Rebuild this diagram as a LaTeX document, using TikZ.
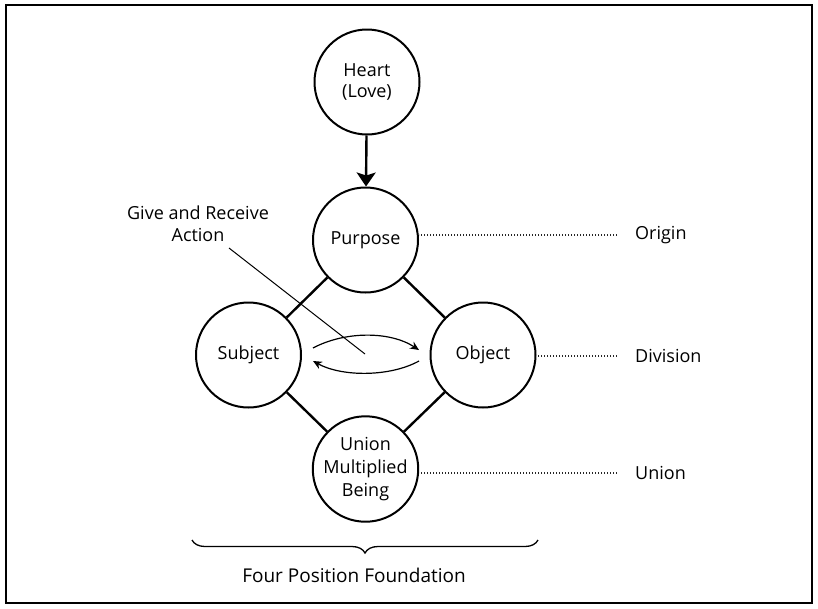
\documentclass[tikz,border=0pt]{standalone}
\usepackage{fontspec}
\setmainfont{Open Sans}
\usetikzlibrary{arrows.meta,decorations.pathreplacing}
\begin{document}
\begin{tikzpicture}[x=1pt,y=-1pt,
  circ/.style={circle,draw,line width=2pt,minimum size=105pt,inner sep=0pt,align=center,font=\fontsize{18}{23}\selectfont},
  link/.style={line width=2.4pt},
  lbl/.style={font=\fontsize{18}{22}\selectfont,align=center,inner sep=0pt},
  side/.style={font=\fontsize{18}{22}\selectfont,anchor=west,inner xsep=18pt,inner ysep=2pt},
  dots/.style={line width=1.1pt,black!85,dash pattern=on 1.1pt off 1.9pt},
  ga/.style={line width=1.2pt,-{Stealth[length=9pt,width=8pt]}},
  leader/.style={line width=1pt}
]
\useasboundingbox (0,0) rectangle (818,608);
\draw[line width=2.3pt] (6,5) rectangle (812,603);

% circles
\node[circ,font=\fontsize{18}{21}\selectfont] (heart) at (367,82) {Heart\\(Love)};
\node[circ] (purpose) at (365.5,240) {Purpose};
\node[circ] (subject) at (248.5,355) {Subject};
\node[circ] (object) at (483,355) {Object};
\node[circ] (union) at (365.5,469) {Union\\Multiplied\\Being};

% connectors
\draw[line width=2.4pt,-{Stealth[length=14pt,width=19pt,inset=3pt]}] (heart) -- (purpose);
\draw[link] (purpose) -- (subject);
\draw[link] (purpose) -- (object);
\draw[link] (subject) -- (union);
\draw[link] (object) -- (union);

% side labels
\node[side] (origin) at (617,235) {Origin};
\node[side] (division) at (617,356) {Division};
\node[side] (unionlbl) at (617,473) {Union};
\draw[dots] (origin.west) -- (origin.west -| purpose.east);
\draw[dots] (division.west) -- (division.west -| object.east);
\draw[dots] (unionlbl.west) -- (unionlbl.west -| union.east);

% give and receive
\node[lbl] (gr) at (198,224) {Give and Receive\\Action};
\coordinate (ls) at (229,248);
\coordinate (le) at (365,354);
\draw[leader] (ls) -- (le);
\coordinate (a1) at (313,348);
\coordinate (a2) at (419,350);
\coordinate (b1) at (419,361);
\coordinate (b2) at (313,361);
\draw[ga] (a1) .. controls (345,331) and (390,331) .. (a2);
\draw[ga] (b1) .. controls (390,377) and (342,377) .. (b2);

% brace
\coordinate (bl) at (192,540);
\coordinate (br) at (538,540);
\draw[line width=1.3pt,decorate,decoration={brace,amplitude=13pt}] (br) -- (bl);
\node[lbl,font=\fontsize{19}{22}\selectfont] (found) at (354,575) {Four Position Foundation};
\end{tikzpicture}
\end{document}
